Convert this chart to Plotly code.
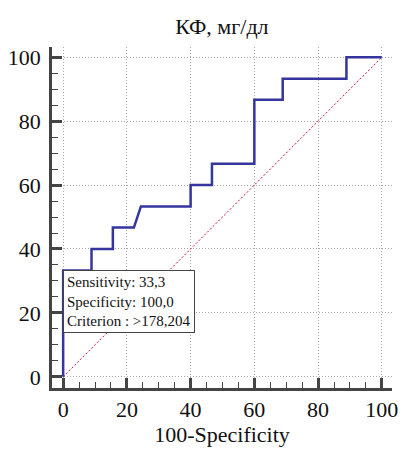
import plotly.graph_objects as go

fpr = [0, 0, 8.9, 8.9, 15.6, 15.6, 22.2, 24.4, 40, 40, 46.7, 46.7, 60, 60, 68.9, 68.9, 88.9, 88.9, 100]
tpr = [0, 33.3, 33.3, 40, 40, 46.7, 46.7, 53.3, 53.3, 60, 60, 66.7, 66.7, 86.7, 86.7, 93.3, 93.3, 100, 100]
diag = [0, 100]
ticks = [0, 20, 40, 60, 80, 100]
title = "КФ, мг/дл"
xlabel = "100-Specificity"
note = ["Sensitivity: 33,3", "Specificity: 100,0", "Criterion : >178,204"]
note_at = (0, 33.3)

FONT = "Liberation Serif"

fig = go.Figure()
fig.add_trace(go.Scatter(x=diag, y=diag, mode="lines",
                         line=dict(color="#c8102e", width=1, dash="2px,2px"),
                         hoverinfo="skip", showlegend=False))
fig.add_trace(go.Scatter(x=fpr, y=tpr, mode="lines",
                         line=dict(color="#35359e", width=2.5),
                         showlegend=False))

fig.add_annotation(x=note_at[0], y=note_at[1], xref="x", yref="y",
                   text="<br>".join(note), showarrow=False,
                   xanchor="left", yanchor="top", align="left",
                   bgcolor="white", bordercolor="#444", borderwidth=1, borderpad=3,
                   font=dict(family=FONT, size=15, color="#111"))

axis_common = dict(
    tickvals=ticks, showgrid=True, gridcolor="#a8a8a8", griddash="1px,2px", gridwidth=1,
    zeroline=False, showline=True, linecolor="#444", linewidth=2.5,
    ticks="inside", ticklen=10, tickwidth=2.5, tickcolor="#444",
    minor=dict(dtick=5, ticks="inside", ticklen=6, tickwidth=1.2, tickcolor="#444", showgrid=False),
    tickfont=dict(family=FONT, size=22, color="#111"),
    range=[-3.5, 103.2], mirror=False, automargin=False,
)

fig.update_layout(
    width=402, height=450,
    margin=dict(l=52, r=10, t=47, b=62),
    paper_bgcolor="white", plot_bgcolor="white",
    title=dict(text=title, x=0.552, xanchor="center", y=0.942, yanchor="middle",
               font=dict(family=FONT, size=22, color="#111")),
    xaxis=dict(**axis_common, ticklabelstandoff=0,
               title=dict(text=xlabel, font=dict(family=FONT, size=22, color="#111"), standoff=6)),
    yaxis=dict(**axis_common, ticklabelstandoff=4),
)

fig.write_html("out.html", config={"displayModeBar": False},
               post_script="document.body.style.margin='0';document.body.style.overflow='hidden';")
